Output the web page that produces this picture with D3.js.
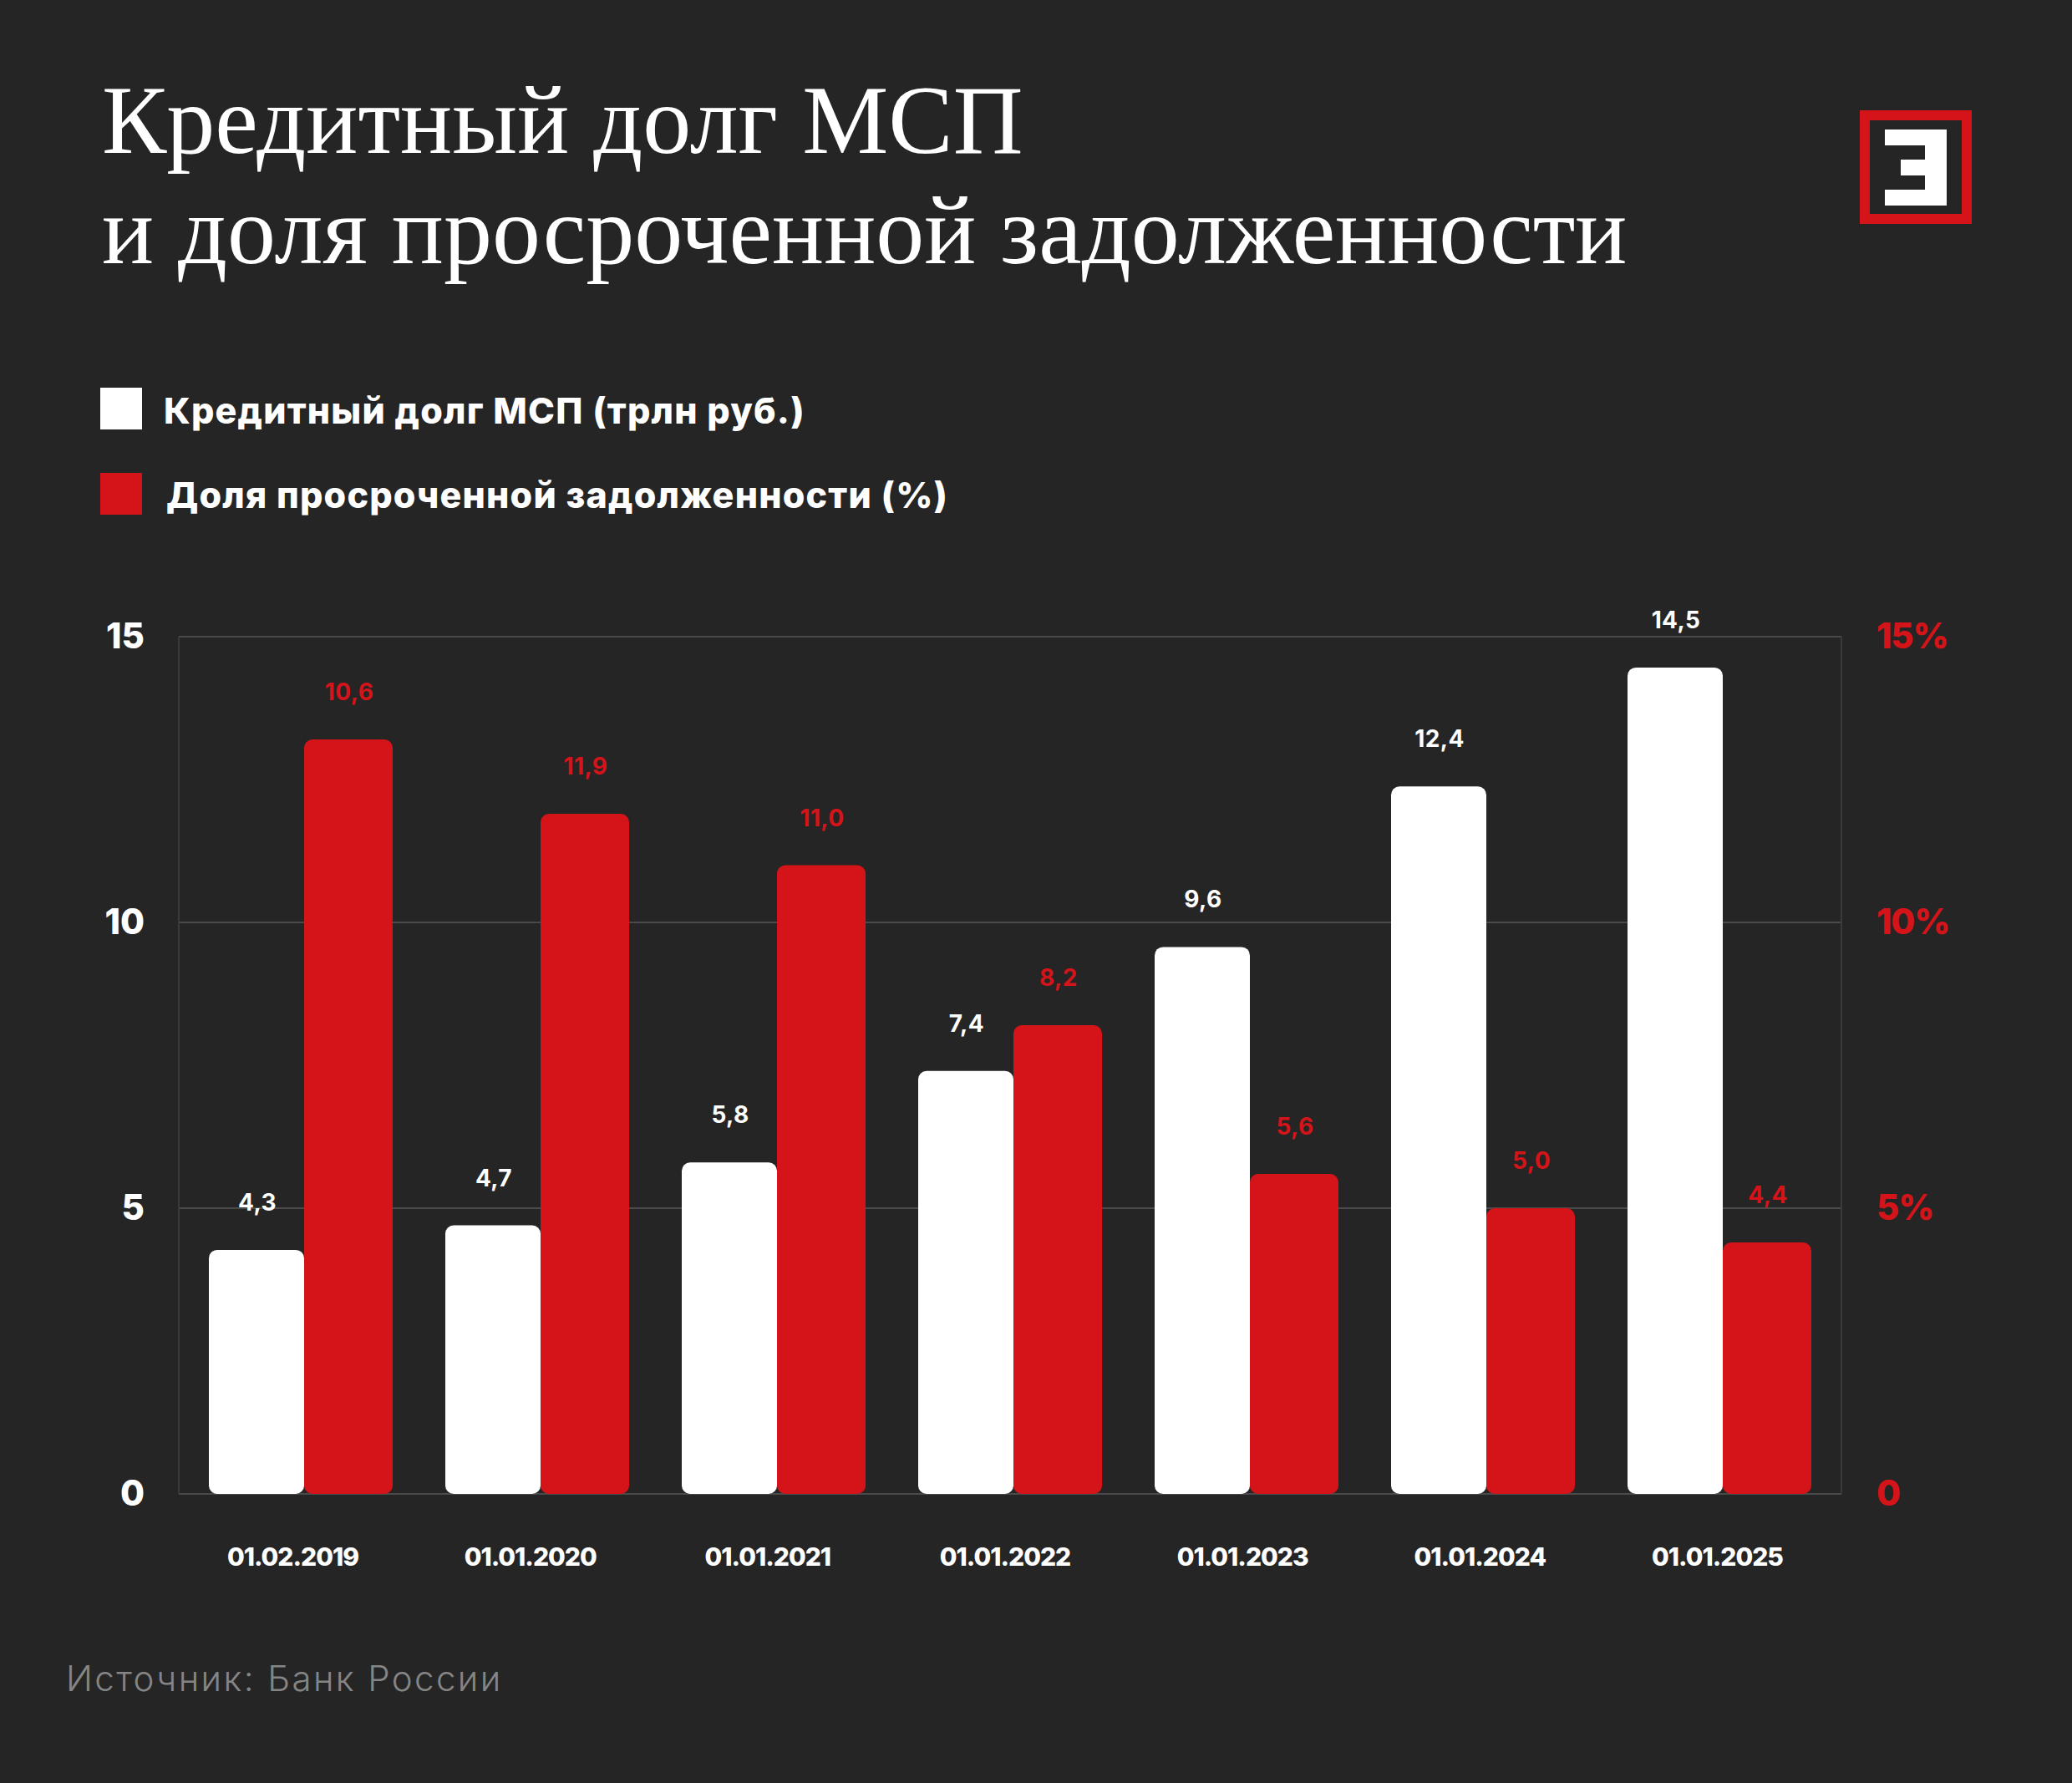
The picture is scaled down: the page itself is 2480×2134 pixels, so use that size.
<!DOCTYPE html>
<html>
<head>
<meta charset="utf-8">
<script src="https://cdn.jsdelivr.net/npm/d3@7"></script>
<style>
	html, body { margin: 0; padding: 0; background: #252525; }
	svg { display: block; }
	text { font-family: Inter, "Noto Sans", sans-serif; }
	.title { font-family: "Liberation Serif", serif; font-size: 116px; fill: #fff; }
	.legend-label { font-size: 43px; font-weight: 800; fill: #fff; letter-spacing: 1.2px; }
	.source { font-size: 42px; font-weight: 300; fill: #858585; letter-spacing: 2.4px; }
	.value { font-size: 28px; font-weight: 700; text-anchor: middle; letter-spacing: 0.4px; }
	.axis path, .axis line { display: none; }
	.axis text { font-family: Inter, "Noto Sans", sans-serif; font-weight: 800; }
</style>
</head>
<body>
<div id="chart"></div>
<script>

var dates = ["01.02.2019", "01.01.2020", "01.01.2021", "01.01.2022", "01.01.2023", "01.01.2024", "01.01.2025"];

// credit debt, trln rub
var debtValues = [4.27, 4.7, 5.8, 7.4, 9.57, 12.38, 14.46];
var debtLabels = ["4,3", "4,7", "5,8", "7,4", "9,6", "12,4", "14,5"];

// overdue share, %. the first bar is drawn taller than its 10,6 label in the original
var shareValues = [13.2, 11.9, 11.0, 8.2, 5.6, 5.0, 4.4];
var shareLabels = ["10,6", "11,9", "11,0", "8,2", "5,6", "5,0", "4,4"];

var leftTicks = [0, 5, 10, 15];
var rightTickLabels = ["0", "5%", "10%", "15%"];

var titleLines = ["Кредитный долг МСП", "и доля просроченной задолженности"];
var legendNames = ["Кредитный долг МСП (трлн руб.)", "Доля просроченной задолженности (%)"];
var sourceText = "Источник: Банк России";

var white = "#ffffff";
var red = "#d5141a";

var svg = d3.select("#chart").append("svg")
	.attr("width", 2480)
	.attr("height", 2134);

svg.append("rect")
	.attr("width", 2480)
	.attr("height", 2134)
	.attr("fill", "#252525");

// scales
var plotLeft = 214, plotRight = 2204, plotTop = 762, plotBottom = 1788;

var y = d3.scaleLinear().domain([0, 15]).range([plotBottom, plotTop]);

// the seam between the white and the red bar of each pair
var seam = d3.scalePoint().domain(dates).range([364, 2062]);
var dateX = d3.scalePoint().domain(dates).range([350, 2055]);

var debtWidth = 114, shareWidth = 106;

// title
svg.selectAll(".title")
	.data(titleLines)
	.enter().append("text")
	.attr("class", "title")
	.attr("x", 122)
	.attr("y", function(d, i) { return 183 + i * 132; })
	.text(function(d) { return d; });

// logo
svg.append("rect")
	.attr("x", 2232).attr("y", 138)
	.attr("width", 122).attr("height", 124)
	.attr("fill", "none")
	.attr("stroke", red)
	.attr("stroke-width", 12);

svg.append("path")
	.attr("d", "M2256 155H2330V246H2256V227H2304V210H2275V191H2304V174H2256Z")
	.attr("fill", white);

// legend
var legend = svg.selectAll(".legend")
	.data(legendNames)
	.enter().append("g")
	.attr("class", "legend");

legend.append("rect")
	.attr("x", 120)
	.attr("y", function(d, i) { return 464 + i * 102; })
	.attr("width", 50)
	.attr("height", 50)
	.attr("fill", function(d, i) { return i ? red : white; });

legend.append("text")
	.attr("class", "legend-label")
	.attr("x", function(d, i) { return i ? 199 : 196; })
	.attr("y", function(d, i) { return 507 + i * 101; })
	.text(function(d) { return d; });

// grid
svg.selectAll(".grid")
	.data(leftTicks)
	.enter().append("line")
	.attr("class", "grid")
	.attr("x1", plotLeft)
	.attr("x2", plotRight)
	.attr("y1", function(d) { return y(d); })
	.attr("y2", function(d) { return y(d); })
	.attr("stroke", "#4a4a4a")
	.attr("stroke-width", 2);

svg.selectAll(".frame")
	.data([plotLeft, plotRight])
	.enter().append("line")
	.attr("class", "frame")
	.attr("x1", function(d) { return d; })
	.attr("x2", function(d) { return d; })
	.attr("y1", plotTop)
	.attr("y2", plotBottom)
	.attr("stroke", "#3a3a3a")
	.attr("stroke-width", 2);

// bars
svg.selectAll(".debt")
	.data(debtValues)
	.enter().append("rect")
	.attr("class", "debt")
	.attr("x", function(d, i) { return seam(dates[i]) - debtWidth; })
	.attr("y", function(d) { return y(d); })
	.attr("width", debtWidth)
	.attr("height", function(d) { return plotBottom - y(d); })
	.attr("rx", 10)
	.attr("fill", white);

svg.selectAll(".share")
	.data(shareValues)
	.enter().append("rect")
	.attr("class", "share")
	.attr("x", function(d, i) { return seam(dates[i]); })
	.attr("y", function(d) { return y(d); })
	.attr("width", shareWidth)
	.attr("height", function(d) { return plotBottom - y(d); })
	.attr("rx", 10)
	.attr("fill", red);

// value labels
svg.selectAll(".debt-value")
	.data(debtLabels)
	.enter().append("text")
	.attr("class", "value debt-value")
	.attr("x", function(d, i) { return seam(dates[i]) - debtWidth / 2 + 1; })
	.attr("y", function(d, i) { return y(debtValues[i]) - 47; })
	.attr("fill", white)
	.text(function(d) { return d; });

svg.selectAll(".share-value")
	.data(shareLabels)
	.enter().append("text")
	.attr("class", "value share-value")
	.attr("x", function(d, i) { return seam(dates[i]) + shareWidth / 2 + 1; })
	.attr("y", function(d, i) { return y(shareValues[i]) - 47; })
	.attr("fill", red)
	.text(function(d) { return d; });

// axes
var leftAxis = d3.axisLeft(y).tickValues(leftTicks).tickSize(0).tickPadding(41);
var rightAxis = d3.axisRight(y).tickValues(leftTicks).tickSize(0).tickPadding(42)
	.tickFormat(function(d, i) { return rightTickLabels[i]; });
var bottomAxis = d3.axisBottom(dateX).tickSize(0).tickPadding(65);

svg.append("g")
	.attr("class", "axis")
	.attr("transform", "translate(" + plotLeft + ",0)")
	.call(leftAxis)
	.selectAll("text")
	.attr("font-size", 42)
	.attr("fill", white);

svg.append("g")
	.attr("class", "axis")
	.attr("transform", "translate(" + plotRight + ",0)")
	.call(rightAxis)
	.selectAll("text")
	.attr("font-size", 42)
	.attr("letter-spacing", -1.2)
	.attr("fill", red);

svg.append("g")
	.attr("class", "axis")
	.attr("transform", "translate(0," + plotBottom + ")")
	.call(bottomAxis)
	.selectAll("text")
	.attr("font-size", 30)
	.attr("letter-spacing", -1)
	.attr("fill", white);

// source
svg.append("text")
	.attr("class", "source")
	.attr("x", 79)
	.attr("y", 2024)
	.text(sourceText);

</script>
</body>
</html>
